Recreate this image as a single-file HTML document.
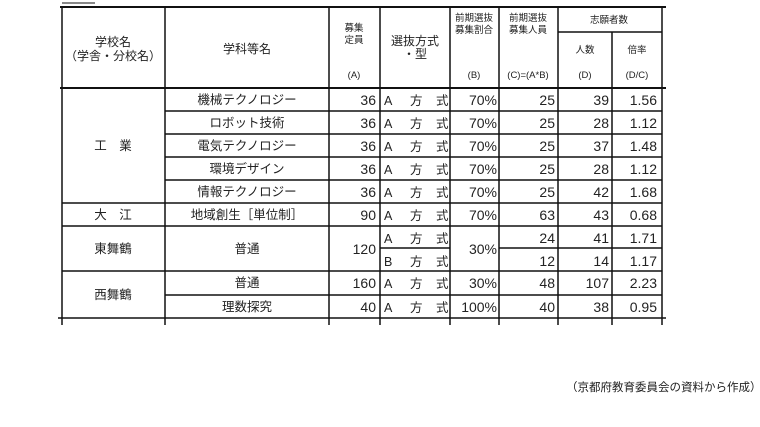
<!DOCTYPE html>
<html><head><meta charset="utf-8"><style>
html,body{margin:0;padding:0;background:#fff;}
svg{display:block;}
text{font-family:"Liberation Sans","Noto Sans CJK JP",sans-serif;fill:#222;}
.h{font-size:12px;}
.s{font-size:9.5px;}
.d{font-size:14px;}
.j{font-size:12.5px;}
</style></head><body>
<svg width="760" height="427" viewBox="0 0 760 427" xmlns="http://www.w3.org/2000/svg">
<g stroke="#111" stroke-width="1.5" fill="none">
<line x1="62" y1="3" x2="95" y2="3" stroke-width="1"/>
<line x1="60" y1="7" x2="666" y2="7" stroke-width="2"/>
<line x1="558" y1="32" x2="662" y2="32"/>
<line x1="60" y1="88" x2="666" y2="88" stroke-width="2"/>
<line x1="165" y1="111" x2="662" y2="111"/>
<line x1="165" y1="134" x2="662" y2="134"/>
<line x1="165" y1="157" x2="662" y2="157"/>
<line x1="165" y1="180" x2="662" y2="180"/>
<line x1="62" y1="203" x2="662" y2="203"/>
<line x1="62" y1="226" x2="662" y2="226"/>
<line x1="380" y1="248" x2="450" y2="248"/>
<line x1="499" y1="248" x2="662" y2="248"/>
<line x1="62" y1="271" x2="662" y2="271"/>
<line x1="165" y1="295" x2="662" y2="295"/>
<line x1="58" y1="318" x2="666" y2="318"/>
<line x1="62" y1="7" x2="62" y2="325"/>
<line x1="165" y1="7" x2="165" y2="325"/>
<line x1="329" y1="7" x2="329" y2="325"/>
<line x1="380" y1="7" x2="380" y2="325"/>
<line x1="450" y1="7" x2="450" y2="325"/>
<line x1="499" y1="7" x2="499" y2="325"/>
<line x1="558" y1="7" x2="558" y2="325"/>
<line x1="612" y1="32" x2="612" y2="325"/>
<line x1="662" y1="7" x2="662" y2="325"/>
</g>
<g text-anchor="middle">
<text class="h" x="113" y="46">学校名</text>
<text class="h" x="113" y="60">（学舎・分校名）</text>
<text class="h" x="247" y="53">学科等名</text>
<text class="s" x="354" y="31">募集</text>
<text class="s" x="354" y="43">定員</text>
<text class="s" x="354" y="78">(A)</text>
<text class="h" x="415" y="45">選抜方式</text>
<text class="h" x="415" y="58">・型</text>
<text class="s" x="474" y="21">前期選抜</text>
<text class="s" x="474" y="33">募集割合</text>
<text class="s" x="474" y="78">(B)</text>
<text class="s" x="528" y="21">前期選抜</text>
<text class="s" x="528" y="33">募集人員</text>
<text class="s" x="528" y="78">(C)=(A*B)</text>
<text class="s" x="609" y="23">志願者数</text>
<text class="s" x="585" y="53">人数</text>
<text class="s" x="637" y="53">倍率</text>
<text class="s" x="585" y="78">(D)</text>
<text class="s" x="637" y="78">(D/C)</text>
<text class="j" x="113" y="150">工　業</text>
<text class="j" x="113" y="219">大　江</text>
<text class="j" x="113" y="253">東舞鶴</text>
<text class="j" x="113" y="299">西舞鶴</text>
<text class="j" x="247" y="104">機械テクノロジー</text>
<text class="j" x="247" y="127">ロボット技術</text>
<text class="j" x="247" y="150">電気テクノロジー</text>
<text class="j" x="247" y="173">環境デザイン</text>
<text class="j" x="247" y="196">情報テクノロジー</text>
<text class="j" x="247" y="219">地域創生［単位制］</text>
<text class="j" x="247" y="253">普通</text>
<text class="j" x="247" y="287">普通</text>
<text class="j" x="247" y="311">理数探究</text>
</g>
<g class="d" text-anchor="end">
<text x="376" y="105">36</text><text x="376" y="128">36</text><text x="376" y="151">36</text><text x="376" y="174">36</text><text x="376" y="197">36</text><text x="376" y="220">90</text><text x="376" y="254">120</text><text x="376" y="288">160</text><text x="376" y="312">40</text>
<text x="497" y="105">70%</text><text x="497" y="128">70%</text><text x="497" y="151">70%</text><text x="497" y="174">70%</text><text x="497" y="197">70%</text><text x="497" y="220">70%</text><text x="497" y="254">30%</text><text x="497" y="288">30%</text><text x="497" y="312">100%</text>
<text x="555" y="105">25</text><text x="555" y="128">25</text><text x="555" y="151">25</text><text x="555" y="174">25</text><text x="555" y="197">25</text><text x="555" y="220">63</text><text x="555" y="243">24</text><text x="555" y="266">12</text><text x="555" y="288">48</text><text x="555" y="312">40</text>
<text x="609" y="105">39</text><text x="609" y="128">28</text><text x="609" y="151">37</text><text x="609" y="174">28</text><text x="609" y="197">42</text><text x="609" y="220">43</text><text x="609" y="243">41</text><text x="609" y="266">14</text><text x="609" y="288">107</text><text x="609" y="312">38</text>
<text x="657" y="105">1.56</text><text x="657" y="128">1.12</text><text x="657" y="151">1.48</text><text x="657" y="174">1.12</text><text x="657" y="197">1.68</text><text x="657" y="220">0.68</text><text x="657" y="243">1.71</text><text x="657" y="266">1.17</text><text x="657" y="288">2.23</text><text x="657" y="312">0.95</text>
</g>
<g class="j">
<text x="384" y="105">A</text><text x="410" y="105">方</text><text x="436" y="105">式</text>
<text x="384" y="128">A</text><text x="410" y="128">方</text><text x="436" y="128">式</text>
<text x="384" y="151">A</text><text x="410" y="151">方</text><text x="436" y="151">式</text>
<text x="384" y="174">A</text><text x="410" y="174">方</text><text x="436" y="174">式</text>
<text x="384" y="197">A</text><text x="410" y="197">方</text><text x="436" y="197">式</text>
<text x="384" y="220">A</text><text x="410" y="220">方</text><text x="436" y="220">式</text>
<text x="384" y="243">A</text><text x="410" y="243">方</text><text x="436" y="243">式</text>
<text x="384" y="266">B</text><text x="410" y="266">方</text><text x="436" y="266">式</text>
<text x="384" y="288">A</text><text x="410" y="288">方</text><text x="436" y="288">式</text>
<text x="384" y="312">A</text><text x="410" y="312">方</text><text x="436" y="312">式</text>
</g>
<text x="566" y="391" style="font-size:11.5px">（京都府教育委員会の資料から作成）</text>
</svg>
</body></html>
